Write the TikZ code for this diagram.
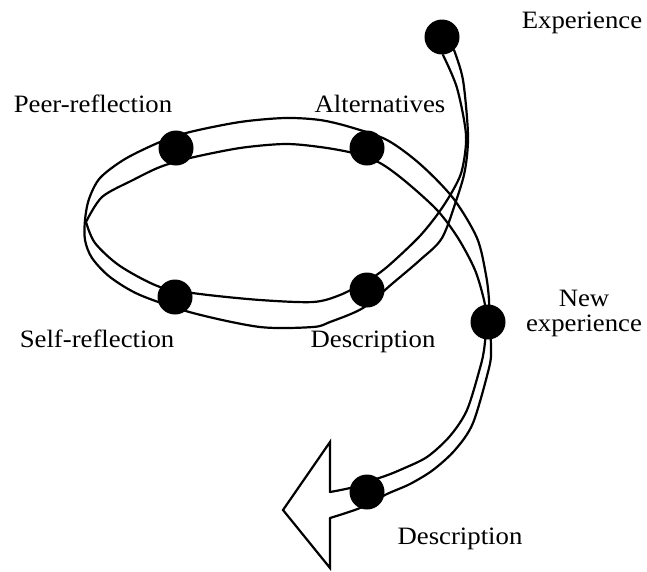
\documentclass[tikz,border=0pt]{standalone}
\usepackage{fontspec}
\setmainfont{Liberation Serif}[FakeStretch=1.07]
\begin{document}
\begin{tikzpicture}[x=1pt,y=-1pt,
  edge/.style={line width=2.2pt,line join=round,line cap=round},
  dot/.style={circle,fill=black,inner sep=0pt,minimum size=35pt},
  lbl/.style={anchor=base,inner sep=0pt,font=\fontsize{25}{25}\selectfont}]
\useasboundingbox (0,0) rectangle (647,571);

% ribbon: inner edge from the top down to the fold on the left
\draw[edge] plot[smooth] coordinates {(443,55) (457,88) (466,135) (462,170) (452,192)
  (437,215) (418,238) (387,267) (367,281) (340,295) (313,302) (260,300) (200,294)
  (160,287) (120,266) (95,243) (86,222)};
% ribbon: inner edge from the fold round the upper part of the loop
\draw[edge] plot[smooth] coordinates {(86,222) (102,197) (133,180) (160,167) (190,158)
  (240,148) (285,144) (320,147) (353,153) (380,163) (405,181) (437,210) (458,238)
  (475,270) (484,300) (487,320)};
% ribbon: outer edge, one stroke all the way round
\draw[edge] plot[smooth] coordinates {(454,50) (463,80) (468,135) (465,170) (457,198)
  (442,238) (420,260) (393,283) (363,308) (330,322) (313,327) (260,327) (193,313)
  (140,295) (110,277) (92,258) (85,240) (85,220) (89,199) (100,178) (125,159)
  (160,142) (190,132) (240,122) (285,118) (320,120) (350,127) (387,140) (420,164)
  (453,198) (477,238) (486,275) (489,300) (489,320)};
% last turn of the ribbon down to the arrow head
\draw[edge] plot[smooth] coordinates {(487,322) (484,350) (480,368) (467,410) (450,436)
  (427,457) (400,470) (385,476) (367,482) (350,488) (330,492)};
\draw[edge] plot[smooth] coordinates {(490,322) (491,350) (489,368) (473,423) (455,450)
  (433,470) (410,484) (387,494) (360,508) (330,518)};
% arrow head
\draw[edge,line join=miter] (330,492) -- (330,442) -- (283,510) -- (330,568) -- (330,518);

% stations on the ribbon
\node[dot] (exp)  at (442,37)  {};
\node[dot] (alt)  at (367,148) {};
\node[dot] (peer) at (176,148) {};
\node[dot] (self) at (175,297) {};
\node[dot] (desc) at (367,290) {};
\node[dot] (newx) at (488,322) {};
\node[dot] (desc2) at (367,492) {};

% labels
\node[lbl] (lexp)   at (582,28)  {Experience};
\node[lbl] (lpeer)  at (93,112)  {Peer-reflection};
\node[lbl] (lalt)   at (380,112) {Alternatives};
\node[lbl] (lself)  at (97,347)  {Self-reflection};
\node[lbl] (ldesc)  at (373,347) {Description};
\node[lbl] (lnew1)  at (584,306) {New};
\node[lbl] (lnew2)  at (584,331) {experience};
\node[lbl] (ldesc2) at (460,544) {Description};
\end{tikzpicture}
\end{document}
